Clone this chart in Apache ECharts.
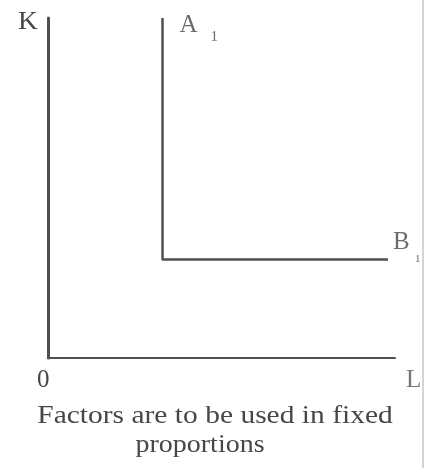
<!DOCTYPE html>
<html>
<head>
<meta charset="utf-8">
<script src="https://cdn.jsdelivr.net/npm/echarts@6/dist/echarts.min.js"></script>
<style>
  html, body { margin: 0; padding: 0; background: #fff; }
  #chart { width: 432px; height: 468px; }
</style>
</head>
<body>
<div id="chart"></div>
<script>
// isoquant corners (labour, capital), in axis units 0..100
var labourPts = [33, 33, 98];
var capitalPts = [100, 29, 29];
// labelled ends of the isoquant
var labelNames = ['A', 'B'];
var labelPts = [[33, 100], [98, 29]];
var captionLines = ['Factors are to be used in fixed', 'proportions'];

var ink = '#474747';
var serif = 'Liberation Serif';

var chart = echarts.init(document.getElementById('chart'));

var isoData = labourPts.map(function (x, i) { return [x, capitalPts[i]]; });

// main letters and their subscripts, placed relative to the data point
var mainOffsets = [[17, -5], [5, -29]];
var subOffsets = [[48, 12], [27, -6]];
var subSizes = [15, 11];

function labelData(offsets, text, sizes) {
    return labelPts.map(function (p, i) {
        return {
            value: p,
            label: {
                show: true,
                formatter: text === null ? labelNames[i] : text,
                position: offsets[i],
                align: 'left',
                verticalAlign: 'top',
                fontFamily: serif,
                fontSize: sizes[i],
                lineHeight: sizes[i],
                color: ink
            }
        };
    });
}

function txt(x, y, text, size, opts) {
    var el = {
        type: 'text', x: x, y: y,
        style: { text: text, fontFamily: serif, fontSize: size, fill: ink, textVerticalAlign: 'top' }
    };
    Object.keys(opts || {}).forEach(function (k) {
        if (k === 'style') Object.assign(el.style, opts.style); else el[k] = opts[k];
    });
    return el;
}

var option = {
    animation: false,
    grid: { left: 48, right: 37, top: 18, bottom: 110 },
    xAxis: {
        type: 'value', min: 0, max: 100,
        axisLine: { show: true, onZero: false, lineStyle: { color: '#505050', width: 2 } },
        axisTick: { show: false }, axisLabel: { show: false }, splitLine: { show: false }
    },
    yAxis: {
        type: 'value', min: 0, max: 100,
        axisLine: { show: true, onZero: false, lineStyle: { color: '#505050', width: 3 } },
        axisTick: { show: false }, axisLabel: { show: false }, splitLine: { show: false }
    },
    series: [
        {
            type: 'line',
            data: isoData,
            symbol: 'none',
            lineStyle: { color: '#505050', width: 2.5 }
        },
        {
            type: 'scatter',
            symbolSize: 0,
            data: labelData(mainOffsets, null, [25, 25])
        },
        {
            type: 'scatter',
            symbolSize: 0,
            data: labelData(subOffsets, '1', subSizes)
        }
    ],
    graphic: [
        txt(18, 10, 'K', 25, { scaleX: 1.1 }),
        txt(37, 368, '0', 25),
        txt(406, 368, 'L', 25, { style: { fill: '#777' } }),
        txt(215, 404, captionLines[0], 25, { scaleX: 1.18, style: { textAlign: 'center' } }),
        txt(200, 433, captionLines[1], 25, { scaleX: 1.12, style: { textAlign: 'center' } }),
        { type: 'line', shape: { x1: 423, y1: 0, x2: 423, y2: 468 }, style: { stroke: '#d4d4d4', lineWidth: 2 } }
    ]
};

chart.setOption(option);
</script>
</body>
</html>
